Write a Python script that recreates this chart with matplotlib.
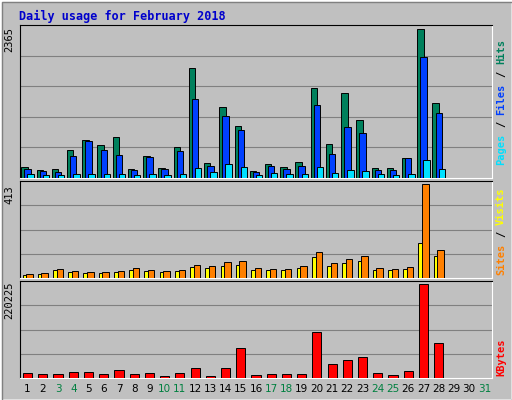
import matplotlib
matplotlib.use("Agg")
import matplotlib.pyplot as plt
from matplotlib.patches import Rectangle

days = list(range(1, 32))
weekend = [3, 4, 10, 11, 17, 18, 24, 25, 31]
hits = [178,130,146,450,600,520,660,146,356,162,500,1750,243,1134,826,113,227,178,260,1425,535,1360,923,162,162,324,2365,1200,0,0,0]
files = [146,113,97,356,583,453,373,130,340,146,437,1263,194,988,761,97,194,146,194,1166,389,810,713,130,130,324,1928,1037,0,0,0]
pages = [60,50,50,60,60,60,60,50,60,50,60,162,100,227,178,50,80,60,70,178,80,130,110,60,50,60,292,146,0,0,0]
visits = [18,23,41,32,27,27,32,45,36,32,36,59,54,68,73,45,41,41,54,113,64,82,95,45,41,50,413,122,0,0,0]
sites = [14,18,33,26,22,22,26,36,29,26,29,47,43,54,58,36,33,33,43,90,51,66,76,36,33,40,154,98,0,0,0]
kbytes = [12000,9600,9600,14000,14000,9600,19000,9600,12000,4000,12000,24000,4000,24000,69000,7000,9600,9600,9600,108000,33000,41000,48000,12000,7000,17000,220225,81000,0,0,0]

W, H = 512, 400
fig = plt.figure(figsize=(5.12, 4.0), dpi=100)
fig.patch.set_facecolor("#C0C0C0")
fig.add_artist(Rectangle((0, 0), 1, 1, transform=fig.transFigure, fill=False, ec="white", lw=2))
fig.add_artist(Rectangle((2/W, 0), 1-2/W, 1-2/H, transform=fig.transFigure, fill=False, ec="#808080", lw=1))

fig.text(19/W, 1-16/H, "Daily usage for February 2018", color="#0000CC",
         family="DejaVu Sans Mono", weight="bold", fontsize=8.5, va="center")

def panel(top, bot):
    ax = fig.add_axes([20/W, 1-bot/H, 472/W, (bot-top)/H])
    ax.set_facecolor("#C0C0C0")
    ax.set_xlim(0.5, 31.5)
    for s in ax.spines.values():
        s.set_color("black")
    ax.spines["right"].set_color("white")
    ax.spines["bottom"].set_color("white")
    ax.set_xticks([]); ax.set_yticks([])
    return ax

def bars(ax, xs, vals, color, w):
    ax.bar(xs, vals, width=w, color=color, edgecolor="black", linewidth=0.7, zorder=3)

def side(parts):
    for txt, col, yy in parts:
        fig.text(501/W, 1-yy/H, txt, rotation=90, color=col, fontsize=7.5,
                 family="DejaVu Sans Mono", weight="bold", ha="center", va="center")

ax1 = panel(25, 178)
ax1.set_ylim(0, 2365 * 1.03)
for f in [0.2, 0.4, 0.6, 0.8]:
    ax1.axhline(2365 * f * 1.03, color="#808080", lw=0.8, zorder=1)
bars(ax1, [d - 0.2 for d in days], hits, "#00805C", 0.42)
bars(ax1, days, files, "#0040FF", 0.42)
bars(ax1, [d + 0.2 for d in days], pages, "#00E0FF", 0.42)
fig.text(9/W, 1-40/H, "2365", rotation=90, fontsize=7.5, family="DejaVu Sans Mono", ha="center", va="center")
side([("Pages", "#00E0FF", 149), ("/", "black", 124), ("Files", "#0040FF", 99), ("/", "black", 74), ("Hits", "#00805C", 52)])

ax2 = panel(181, 278)
ax2.set_ylim(0, 413 * 1.03)
for f in [0.25, 0.5, 0.75]:
    ax2.axhline(413 * f * 1.03, color="#808080", lw=0.8, zorder=1)
bars(ax2, [d - 0.12 for d in days], sites, "#FFFF00", 0.42)
bars(ax2, [d + 0.12 for d in days], visits, "#FF8000", 0.42)
fig.text(9/W, 1-195/H, "413", rotation=90, fontsize=7.5, family="DejaVu Sans Mono", ha="center", va="center")
side([("Sites", "#FF8000", 259), ("/", "black", 234), ("Visits", "#FFFF00", 206)])

ax3 = panel(281, 378)
ax3.set_ylim(0, 220225 * 1.03)
for f in [0.25, 0.5, 0.75]:
    ax3.axhline(220225 * f * 1.03, color="#808080", lw=0.8, zorder=1)
bars(ax3, days, kbytes, "#FF0000", 0.6)
fig.text(9/W, 1-300/H, "220225", rotation=90, fontsize=7.5, family="DejaVu Sans Mono", ha="center", va="center")
side([("KBytes", "#FF0000", 357)])

for d in days:
    xf = (20 + (d - 0.5) / 31 * 472) / W
    fig.text(xf, 1-389/H, str(d), color="#008040" if d in weekend else "black",
             fontsize=7.5, family="DejaVu Sans", ha="center", va="center")

fig.savefig("out.png", dpi=100, facecolor=fig.get_facecolor())
